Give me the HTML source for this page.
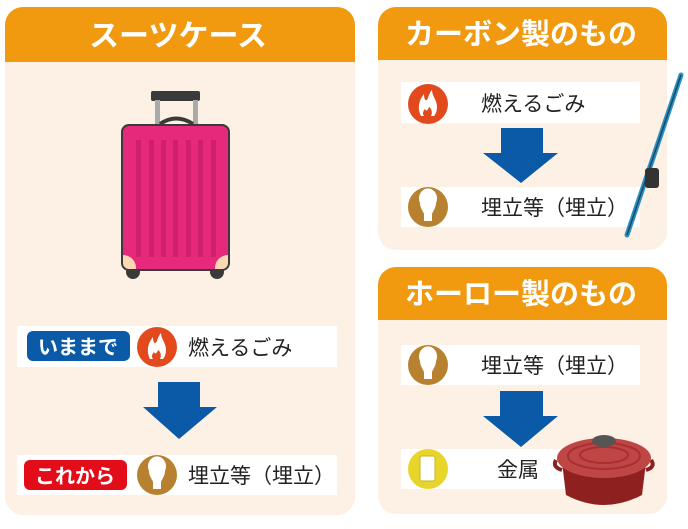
<!DOCTYPE html>
<html><head><meta charset="utf-8"><style>
body{margin:0;background:#fff;}
svg text{font-family:"Liberation Sans","Noto Sans CJK JP",sans-serif;}
</style></head><body>
<svg width="688" height="524" viewBox="0 0 688 524" xmlns="http://www.w3.org/2000/svg">
<defs>
<g id="fire"><circle r="20" fill="#e24a1e"/><path d="M-7,12 C-11,4 -9,-4 -4,-10 C-4,-4 -2,-2 0,-6 C1,-10 3,-13 4,-14 C4,-8 9,-4 9,3 C9,8 7,11 6,12 L3,12 C5,8 3,4 1,3 C0,6 -2,8 -3,5 C-6,8 -5,11 -4,12 Z" fill="#fff"/></g>
<g id="bulb"><circle r="20" fill="#b8812f"/><path d="M-8,-4 A9,10 0 1 1 8,-4 C8,1 5,4 4,7 L4,14 L-4,14 L-4,7 C-5,4 -8,1 -8,-4 Z" fill="#fff"/></g>
</defs>
<rect x="5" y="7" width="350" height="508" rx="18" fill="#fcf1e4"/>
<path d="M5,62 V25 A18,18 0 0 1 23,7 H337 A18,18 0 0 1 355,25 V62 Z" fill="#f19a0f"/>
<text x="178" y="46" font-size="30" fill="#fff" text-anchor="middle" font-weight="bold">スーツケース</text>
<rect x="151" y="91" width="49" height="10" rx="2" fill="#3a3a3a"/>
<rect x="155" y="100" width="5" height="28" fill="#aaa"/><rect x="193" y="100" width="5" height="28" fill="#aaa"/>
<path d="M160,124 Q176,113 193,124" stroke="#3a3a3a" stroke-width="4" fill="none"/>
<circle cx="133" cy="272" r="7" fill="#3a3a3a"/><circle cx="217" cy="272" r="7" fill="#3a3a3a"/>
<rect x="122" y="125" width="107" height="145" rx="7" fill="#e6297a" stroke="#3a3a3a" stroke-width="2"/>
<g fill="#d0206c"><rect x="136" y="140" width="5" height="117"/><rect x="149" y="140" width="5" height="117"/><rect x="161" y="140" width="5" height="117"/><rect x="173" y="140" width="5" height="117"/><rect x="186" y="140" width="5" height="117"/><rect x="198" y="140" width="5" height="117"/><rect x="211" y="140" width="5" height="117"/></g>
<path d="M123,255 A13,13 0 0 1 136,269 H129 A6,6 0 0 1 123,263 Z" fill="#f8d9b4"/>
<path d="M228,255 A13,13 0 0 0 215,269 H222 A6,6 0 0 0 228,263 Z" fill="#f8d9b4"/>
<rect x="17" y="326" width="320" height="41" fill="#fff"/>
<rect x="27" y="331" width="103" height="30" rx="6" fill="#0a5aa8"/>
<text x="78" y="354" font-size="20" fill="#fff" text-anchor="middle" font-weight="bold">いままで</text>
<use href="#fire" x="157" y="347"/>
<text x="188" y="355" font-size="21" fill="#222">燃えるごみ</text>
<path d="M158,382 H200 V407 H217 L179,439 L143,407 H158 Z" fill="#0a5aa8"/>
<rect x="17" y="455" width="320" height="40" fill="#fff"/>
<rect x="24" y="460" width="103" height="30" rx="6" fill="#e30d1a"/>
<text x="75" y="483" font-size="20" fill="#fff" text-anchor="middle" font-weight="bold">これから</text>
<use href="#bulb" x="157" y="475"/>
<text x="188" y="483" font-size="21" fill="#222">埋立等（埋立）</text>
<rect x="378" y="7" width="289" height="243" rx="18" fill="#fcf1e4"/>
<path d="M378,60 V25 A18,18 0 0 1 396,7 H649 A18,18 0 0 1 667,25 V60 Z" fill="#f19a0f"/>
<text x="521" y="44" font-size="29" fill="#fff" text-anchor="middle" font-weight="bold">カーボン製のもの</text>
<rect x="401" y="82" width="239" height="41" fill="#fff"/>
<use href="#fire" x="428" y="104"/>
<text x="481" y="111" font-size="21" fill="#222">燃えるごみ</text>
<path d="M501,128 H543 V153 H558 L521,183 L483,153 H501 Z" fill="#0a5aa8"/>
<rect x="401" y="187" width="239" height="40" fill="#fff"/>
<use href="#bulb" x="428" y="207"/>
<text x="481" y="215" font-size="21" fill="#222">埋立等（埋立）</text>
<path d="M681,75 L627,235" stroke="#2a8fc0" stroke-width="5" stroke-linecap="round"/>
<path d="M681,75 L627,235" stroke="#1a4a6a" stroke-width="1.5"/>
<rect x="645" y="168" width="14" height="20" rx="3" fill="#333"/>
<rect x="378" y="267" width="289" height="247" rx="18" fill="#fcf1e4"/>
<path d="M378,320 V285 A18,18 0 0 1 396,267 H649 A18,18 0 0 1 667,285 V320 Z" fill="#f19a0f"/>
<text x="521" y="304" font-size="29" fill="#fff" text-anchor="middle" font-weight="bold">ホーロー製のもの</text>
<rect x="401" y="345" width="239" height="40" fill="#fff"/>
<use href="#bulb" x="428" y="365"/>
<text x="481" y="373" font-size="21" fill="#222">埋立等（埋立）</text>
<path d="M500,391 H543 V416 H558 L521,447 L483,416 H500 Z" fill="#0a5aa8"/>
<rect x="401" y="449" width="239" height="40" fill="#fff"/>
<circle cx="428" cy="469" r="20" fill="#e8d52a"/>
<rect x="420" y="456" width="15" height="25" rx="2" fill="#fff" stroke="#c8b520"/>
<text x="497" y="477" font-size="21" fill="#222">金属</text>
<path d="M556,460 Q552,467 562,470 M651,460 Q656,467 646,470" stroke="#8a2222" stroke-width="4" fill="none"/>
<path d="M562,462 H646 L642,495 Q604,515 566,495 Z" fill="#8e2020"/>
<ellipse cx="604" cy="458" rx="47" ry="20" fill="#c04545"/>
<ellipse cx="604" cy="456" rx="36" ry="13" fill="none" stroke="#a83030" stroke-width="2"/>
<ellipse cx="604" cy="455" rx="24" ry="8" fill="none" stroke="#a83030" stroke-width="2"/>
<ellipse cx="604" cy="441" rx="12" ry="6" fill="#555"/>
</svg>
</body></html>
